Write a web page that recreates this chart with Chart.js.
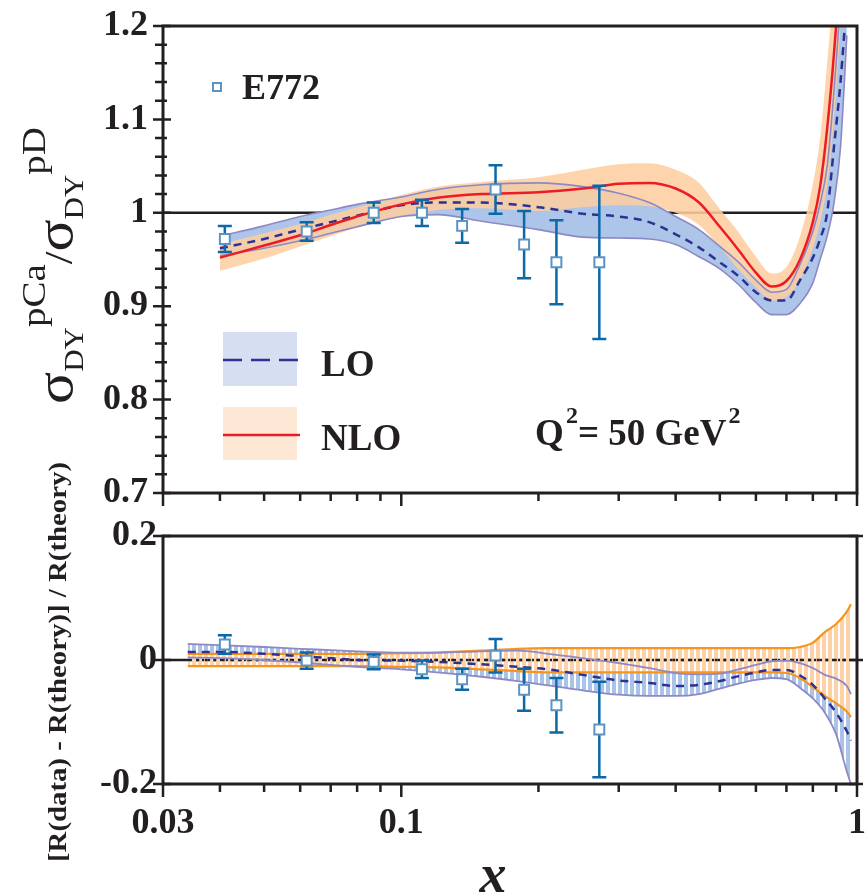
<!DOCTYPE html>
<html>
<head>
<meta charset="utf-8">
<title>pCa / pD Drell-Yan ratio</title>
<script src="https://cdn.jsdelivr.net/npm/chart.js@4.4.1/dist/chart.umd.min.js"></script>
<style>
  html, body { margin: 0; padding: 0; background: #fff; }
  #page { position: relative; width: 866px; height: 894px; overflow: hidden; }
  .panel { position: absolute; left: 0; }
</style>
</head>
<body>
<div id="page">
  <div class="panel" style="top:0"><canvas id="topChart" width="866" height="520"></canvas></div>
  <div class="panel" style="top:440px"><canvas id="bottomChart" width="866" height="454"></canvas></div>
</div>
<script>
// ---- axes ----
const X_TICKS = [0.03, 0.1, 1];
const X_TICK_LABELS = ['0.03', '0.1', '1'];
const X_MINOR = [0.04, 0.05, 0.06, 0.07, 0.08, 0.09, 0.2, 0.3, 0.4, 0.5, 0.6, 0.7, 0.8, 0.9];

const TOP_Y_TICKS = [0.7, 0.8, 0.9, 1.0, 1.1, 1.2];
const TOP_Y_LABELS = ['0.7', '0.8', '0.9', '1', '1.1', '1.2'];
const TOP_Y_MINOR = [0.72, 0.74, 0.76, 0.78, 0.82, 0.84, 0.86, 0.88, 0.92, 0.94, 0.96, 0.98,
                     1.02, 1.04, 1.06, 1.08, 1.12, 1.14, 1.16, 1.18];

const BOT_Y_TICKS = [-0.2, 0, 0.2];
const BOT_Y_LABELS = ['-0.2', '0', '0.2'];

// ---- E772 data ----
const E772_X = [0.041, 0.062, 0.087, 0.111, 0.136, 0.161, 0.186, 0.219, 0.272];
const E772_R = [0.972, 0.980, 1.000, 1.000, 0.986, 1.025, 0.966, 0.947, 0.947];
const E772_R_ERR = [0.014, 0.010, 0.011, 0.014, 0.018, 0.026, 0.036, 0.045, 0.082];
const E772_DEV = [0.025, -0.001, -0.003, -0.015, -0.031, 0.007, -0.048, -0.073, -0.112];
const E772_DEV_ERR = [0.015, 0.013, 0.012, 0.014, 0.017, 0.027, 0.034, 0.044, 0.077];

// ---- theory, upper panel ----
const TOP_X = [0.04, 0.05, 0.06, 0.07, 0.08, 0.1, 0.12, 0.15, 0.2, 0.25, 0.3, 0.35, 0.4, 0.45,
               0.5, 0.55, 0.6, 0.65, 0.7, 0.75, 0.8, 0.83, 0.86, 0.89, 0.92, 0.95];
const NLO_MID = [0.952, 0.965, 0.976, 0.987, 0.996, 1.009, 1.016, 1.020, 1.022, 1.026, 1.031, 1.032, 1.026, 1.011,
                 0.985, 0.960, 0.936, 0.921, 0.927, 0.950, 0.990, 1.028, 1.090, 1.170, 1.270, 1.400];
const NLO_HI = [0.966, 0.978, 0.988, 0.998, 1.006, 1.019, 1.028, 1.033, 1.038, 1.046, 1.052, 1.053, 1.046, 1.032,
                1.004, 0.979, 0.953, 0.935, 0.942, 0.975, 1.030, 1.080, 1.160, 1.250, 1.360, 1.500];
const NLO_LO = [0.938, 0.951, 0.964, 0.975, 0.984, 0.996, 1.003, 1.005, 1.002, 1.006, 1.008, 1.007, 1.000, 0.987,
                0.963, 0.939, 0.920, 0.906, 0.910, 0.928, 0.962, 0.990, 1.030, 1.100, 1.200, 1.320];
const LO_MID = [0.962, 0.972, 0.982, 0.990, 0.997, 1.008, 1.011, 1.011, 1.006, 0.999, 0.996, 0.990, 0.977, 0.963,
                0.947, 0.932, 0.915, 0.906, 0.906, 0.928, 0.952, 0.972, 1.000, 1.070, 1.140, 1.230];
const LO_HI = [0.975, 0.986, 0.996, 1.003, 1.009, 1.017, 1.025, 1.030, 1.032, 1.028, 1.021, 1.011, 0.996, 0.982,
               0.964, 0.947, 0.928, 0.915, 0.918, 0.945, 0.980, 1.010, 1.050, 1.130, 1.230, 1.360];
const LO_LOW = [0.954, 0.962, 0.970, 0.978, 0.985, 0.996, 0.998, 0.991, 0.982, 0.974, 0.973, 0.972, 0.966, 0.953,
                0.940, 0.923, 0.904, 0.891, 0.891, 0.903, 0.925, 0.950, 0.975, 1.010, 1.070, 1.190];

// ---- theory, lower panel (relative to NLO) ----
const BOT_X = [0.034, 0.04, 0.05, 0.06, 0.07, 0.08, 0.1, 0.12, 0.15, 0.18, 0.21, 0.25, 0.3, 0.35,
               0.4, 0.45, 0.5, 0.55, 0.6, 0.65, 0.7, 0.75, 0.8, 0.85, 0.9, 0.95, 0.97];
const DNLO_HI = [0.010, 0.010, 0.010, 0.010, 0.010, 0.010, 0.011, 0.012, 0.015, 0.018, 0.019, 0.019, 0.019, 0.019,
                 0.019, 0.019, 0.019, 0.019, 0.019, 0.019, 0.019, 0.021, 0.028, 0.045, 0.058, 0.078, 0.090];
const DNLO_LO = [-0.010, -0.010, -0.010, -0.010, -0.010, -0.010, -0.011, -0.012, -0.015, -0.018, -0.020, -0.020, -0.020, -0.020,
                 -0.020, -0.020, -0.020, -0.020, -0.020, -0.020, -0.021, -0.029, -0.044, -0.058, -0.070, -0.083, -0.092];
const DLO_MID = [0.013, 0.013, 0.010, 0.006, 0.003, 0.000, -0.001, -0.003, -0.007, -0.011, -0.015, -0.024, -0.033, -0.037,
                 -0.042, -0.040, -0.034, -0.026, -0.020, -0.016, -0.016, -0.025, -0.040, -0.062, -0.085, -0.115, -0.130];
const DLO_HI = [0.026, 0.024, 0.021, 0.018, 0.016, 0.014, 0.012, 0.012, 0.014, 0.015, 0.010, 0.003, -0.005, -0.013,
                -0.021, -0.023, -0.022, -0.015, -0.008, -0.002, -0.001, -0.005, -0.013, -0.024, -0.030, -0.042, -0.055];
const DLO_LOW = [0.004, 0.003, 0.000, -0.004, -0.008, -0.011, -0.015, -0.020, -0.027, -0.034, -0.041, -0.049, -0.056, -0.058,
                 -0.058, -0.055, -0.046, -0.038, -0.032, -0.029, -0.031, -0.045, -0.062, -0.085, -0.120, -0.180, -0.200];
const DOT_X = [0.034, 0.97];
const DOT_Y = [0, 0];

// ---- styles ----
const INK = '#231f20';
const SERIF = '"Liberation Serif", "DejaVu Serif", serif';
const RED = '#ec1c24';
const NAVY = '#2e3192';
const PURPLE = '#8c89c6';
const ORANGE_LINE = '#f7941d';
const ERR_COLOR = '#0b69a8';
const MARKER = '#5b93c2';
const NONE = 'rgba(0,0,0,0)';

function pts(xs, ys) {
  return xs.map((x, i) => ({ x: x, y: ys[i] }));
}

function curve(label, xs, ys, style) {
  return Object.assign({
    label: label, data: pts(xs, ys), pointRadius: 0, pointHoverRadius: 0,
    borderWidth: 2, fill: false, cubicInterpolationMode: 'monotone'
  }, style);
}

function markers(label, xs, ys, errs) {
  return {
    label: label, data: pts(xs, ys), errors: errs, showLine: false,
    pointStyle: 'rect', pointRadius: 7, pointHoverRadius: 7, pointBorderWidth: 2,
    pointBorderColor: MARKER, pointBackgroundColor: '#fff', order: 0
  };
}

// vertical stripes like the printed hatching
function hatch(color) {
  const c = document.createElement('canvas');
  c.width = 6; c.height = 6;
  const g = c.getContext('2d');
  g.fillStyle = color;
  g.fillRect(0, 0, 4, 6);
  return g.createPattern(c, 'repeat');
}

function drawErrors(chart, ds) {
  const { ctx, chartArea: a, scales: { x, y } } = chart;
  ctx.save();
  ctx.beginPath();
  ctx.rect(a.left, a.top, a.width, a.height);
  ctx.clip();
  ctx.strokeStyle = ERR_COLOR;
  ctx.lineWidth = 2.5;
  ds.data.forEach((p, i) => {
    const e = ds.errors[i];
    const px = x.getPixelForValue(p.x);
    const y1 = y.getPixelForValue(p.y + e);
    const y2 = y.getPixelForValue(p.y - e);
    ctx.beginPath();
    ctx.moveTo(px, y1); ctx.lineTo(px, y2);
    ctx.moveTo(px - 7, y1); ctx.lineTo(px + 7, y1);
    ctx.moveTo(px - 7, y2); ctx.lineTo(px + 7, y2);
    ctx.stroke();
  });
  ctx.restore();
}

function drawRefLine(chart, v) {
  const { ctx, chartArea: a, scales: { y } } = chart;
  const py = y.getPixelForValue(v);
  ctx.save();
  ctx.strokeStyle = INK;
  ctx.lineWidth = 2.5;
  ctx.beginPath();
  ctx.moveTo(a.left, py); ctx.lineTo(a.right, py);
  ctx.stroke();
  ctx.restore();
}

function drawFrame(chart, yMajor, yMinor, rightTicks) {
  const { ctx, chartArea: a, scales: { x, y } } = chart;
  ctx.save();
  ctx.strokeStyle = INK;
  ctx.lineWidth = 2.5;
  ctx.beginPath();
  X_TICKS.forEach(v => { const p = x.getPixelForValue(v); ctx.moveTo(p, a.bottom); ctx.lineTo(p, a.bottom + 13); });
  X_MINOR.forEach(v => { const p = x.getPixelForValue(v); ctx.moveTo(p, a.bottom); ctx.lineTo(p, a.bottom + 8); });
  yMajor.forEach(v => {
    const p = y.getPixelForValue(v);
    ctx.moveTo(a.left - 10, p); ctx.lineTo(a.left + 8, p);
    if (rightTicks) { ctx.moveTo(a.right - 8, p); ctx.lineTo(a.right + 6, p); }
  });
  yMinor.forEach(v => { const p = y.getPixelForValue(v); ctx.moveTo(a.left - 8, p); ctx.lineTo(a.left + 4, p); });
  ctx.stroke();
  ctx.lineWidth = 3;
  ctx.strokeRect(a.left, a.top, a.width, a.height);
  ctx.restore();
}

// rotated axis title made of pieces: [text, size, baseline shift]
function drawRotated(ctx, x, y, parts, length, weight) {
  ctx.save();
  ctx.translate(x, y);
  ctx.rotate(-Math.PI / 2);
  ctx.fillStyle = INK;
  ctx.textBaseline = 'alphabetic';
  let total = 0;
  parts.forEach(p => { ctx.font = weight + ' ' + p[1] + 'px ' + SERIF; total += ctx.measureText(p[0]).width; });
  ctx.scale(length / total, 1);
  let cx = 0;
  parts.forEach(p => {
    ctx.font = weight + ' ' + p[1] + 'px ' + SERIF;
    ctx.fillText(p[0], cx, p[2]);
    cx += ctx.measureText(p[0]).width;
  });
  ctx.restore();
}

function drawTopNotes(ctx) {
  ctx.save();
  ctx.textBaseline = 'alphabetic';
  // E772 key
  ctx.fillStyle = '#fff';
  ctx.strokeStyle = MARKER;
  ctx.lineWidth = 2;
  ctx.fillRect(213, 83, 8, 8);
  ctx.strokeRect(213, 83, 8, 8);
  ctx.fillStyle = INK;
  ctx.font = 'bold 36px ' + SERIF;
  ctx.fillText('E772', 242, 99);
  // LO / NLO keys
  ctx.fillStyle = '#d5dff1';
  ctx.fillRect(223, 332, 74, 54);
  ctx.fillStyle = '#fde8d5';
  ctx.fillRect(223, 407, 74, 53);
  ctx.lineWidth = 2.5;
  ctx.strokeStyle = NAVY;
  ctx.setLineDash([19, 9]);
  ctx.beginPath(); ctx.moveTo(223, 360); ctx.lineTo(300, 360); ctx.stroke();
  ctx.setLineDash([]);
  ctx.strokeStyle = RED;
  ctx.beginPath(); ctx.moveTo(223, 435); ctx.lineTo(300, 435); ctx.stroke();
  ctx.fillStyle = INK;
  ctx.font = 'bold 37px ' + SERIF;
  ctx.fillText('LO', 321, 376);
  ctx.fillText('NLO', 321, 450);
  // Q^2 = 50 GeV^2
  ctx.fillText('Q', 535, 445);
  ctx.fillText('= 50 GeV', 578, 445);
  const w = ctx.measureText('= 50 GeV').width;
  ctx.font = 'bold 24px ' + SERIF;
  ctx.fillText('2', 566, 423);
  ctx.fillText('2', 580 + w, 423);
  ctx.restore();
  // y title
  drawRotated(ctx, 72, 404, [
    ['\u03c3', 52, 0], ['DY', 27, 11], ['pCa', 34, -27], ['/', 40, 0],
    ['\u03c3', 52, 0], ['DY', 27, 11], ['pD', 34, -27]
  ], 277, 'normal');
}

function drawBottomNotes(ctx) {
  drawRotated(ctx, 66, 422, [['[R(data) - R(theory)] / R(theory)', 26, 0]], 400, 'bold');
  ctx.save();
  ctx.fillStyle = INK;
  ctx.font = 'bold italic 54px ' + SERIF;
  ctx.textAlign = 'center';
  ctx.textBaseline = 'alphabetic';
  ctx.fillText('x', 493, 452);
  ctx.restore();
}

const topDecor = {
  id: 'topDecor',
  beforeDatasetsDraw(chart) { drawRefLine(chart, 1); },
  beforeDatasetDraw(chart, args) {
    const ds = chart.data.datasets[args.index];
    if (ds.errors) drawErrors(chart, ds);
  },
  afterDraw(chart) {
    drawFrame(chart, TOP_Y_TICKS, TOP_Y_MINOR, false);
    drawTopNotes(chart.ctx);
  }
};

const bottomDecor = {
  id: 'bottomDecor',
  beforeDatasetsDraw(chart) { drawRefLine(chart, 0); },
  beforeDatasetDraw(chart, args) {
    const ds = chart.data.datasets[args.index];
    if (ds.errors) drawErrors(chart, ds);
  },
  afterDraw(chart) {
    drawFrame(chart, BOT_Y_TICKS, [], true);
    drawBottomNotes(chart.ctx);
  }
};

const tickFont = { family: SERIF, size: 36, weight: 'bold' };

function yScale(min, max, ticks, labels, pad) {
  return {
    min: min, max: max,
    grid: { display: false, drawTicks: false },
    border: { display: false },
    afterBuildTicks: s => { s.ticks = ticks.map(v => ({ value: v })); },
    afterFit: s => { s.width = 163; s.paddingTop = 0; s.paddingBottom = 0; },
    ticks: { padding: pad, color: INK, font: tickFont, autoSkip: false, callback: (v, i) => labels[i] }
  };
}

const common = {
  responsive: false,
  devicePixelRatio: 1,
  animation: false,
  events: [],
  plugins: { legend: { display: false }, tooltip: { enabled: false } }
};

new Chart(document.getElementById('topChart'), {
  type: 'line',
  data: {
    datasets: [
      markers('E772', E772_X, E772_R, E772_R_ERR),
      curve('NLO', TOP_X, NLO_MID, { borderColor: RED, borderWidth: 2.5, order: 1 }),
      curve('LO', TOP_X, LO_MID, { borderColor: NAVY, borderWidth: 2.5, borderDash: [8, 6], order: 2 }),
      curve('LO upper', TOP_X, LO_HI, { borderColor: PURPLE, borderWidth: 1.6, order: 3 }),
      curve('LO lower', TOP_X, LO_LOW, { borderColor: PURPLE, borderWidth: 1.6, order: 3 }),
      curve('NLO band', TOP_X, NLO_HI, { borderColor: NONE, fill: 6, backgroundColor: 'rgba(253,206,160,0.88)', order: 5 }),
      curve('NLO band lower', TOP_X, NLO_LO, { borderColor: NONE, order: 5 }),
      curve('LO band', TOP_X, LO_HI, { borderColor: NONE, fill: 4, backgroundColor: '#adc5e8', order: 6 })
    ]
  },
  options: Object.assign({}, common, {
    layout: { padding: { top: 26, right: 9, bottom: 27, left: 0 } },
    scales: {
      x: { type: 'logarithmic', min: 0.03, max: 1, display: false },
      y: yScale(0.7, 1.2, TOP_Y_TICKS, TOP_Y_LABELS, 15)
    }
  }),
  plugins: [topDecor]
});

new Chart(document.getElementById('bottomChart'), {
  type: 'line',
  data: {
    datasets: [
      markers('E772', E772_X, E772_DEV, E772_DEV_ERR),
      curve('LO', BOT_X, DLO_MID, { borderColor: NAVY, borderWidth: 2.5, borderDash: [8, 6], order: 2 }),
      curve('LO upper', BOT_X, DLO_HI, { borderColor: PURPLE, borderWidth: 1.8, order: 3 }),
      curve('LO lower', BOT_X, DLO_LOW, { borderColor: PURPLE, borderWidth: 1.8, order: 3 }),
      curve('NLO upper', BOT_X, DNLO_HI, { borderColor: ORANGE_LINE, borderWidth: 2.2, order: 4 }),
      curve('NLO lower', BOT_X, DNLO_LO, { borderColor: ORANGE_LINE, borderWidth: 2.2, order: 4 }),
      curve('NLO', DOT_X, DOT_Y, { borderColor: INK, borderWidth: 2.5, borderDash: [3, 5.5], order: 5 }),
      curve('NLO band', BOT_X, DNLO_HI, { borderColor: NONE, fill: 5, backgroundColor: hatch('#fed2a6'), order: 6 }),
      curve('LO band', BOT_X, DLO_HI, { borderColor: NONE, fill: 3, backgroundColor: hatch('#a9c3e9'), order: 7 })
    ]
  },
  options: Object.assign({}, common, {
    layout: { padding: { top: 96, right: 9, bottom: 0, left: 0 } },
    scales: {
      x: {
        type: 'logarithmic', min: 0.03, max: 1,
        grid: { display: false, drawTicks: false },
        border: { display: false },
        afterBuildTicks: s => { s.ticks = X_TICKS.map(v => ({ value: v })); },
        afterFit: s => { s.height = 110; s.paddingLeft = 0; s.paddingRight = 0; },
        ticks: { padding: 18, color: INK, font: tickFont, autoSkip: false, maxRotation: 0, minRotation: 0,
                 callback: (v, i) => X_TICK_LABELS[i] }
      },
      y: yScale(-0.2, 0.2, BOT_Y_TICKS, BOT_Y_LABELS, 6)
    }
  }),
  plugins: [bottomDecor]
});
</script>
</body>
</html>
